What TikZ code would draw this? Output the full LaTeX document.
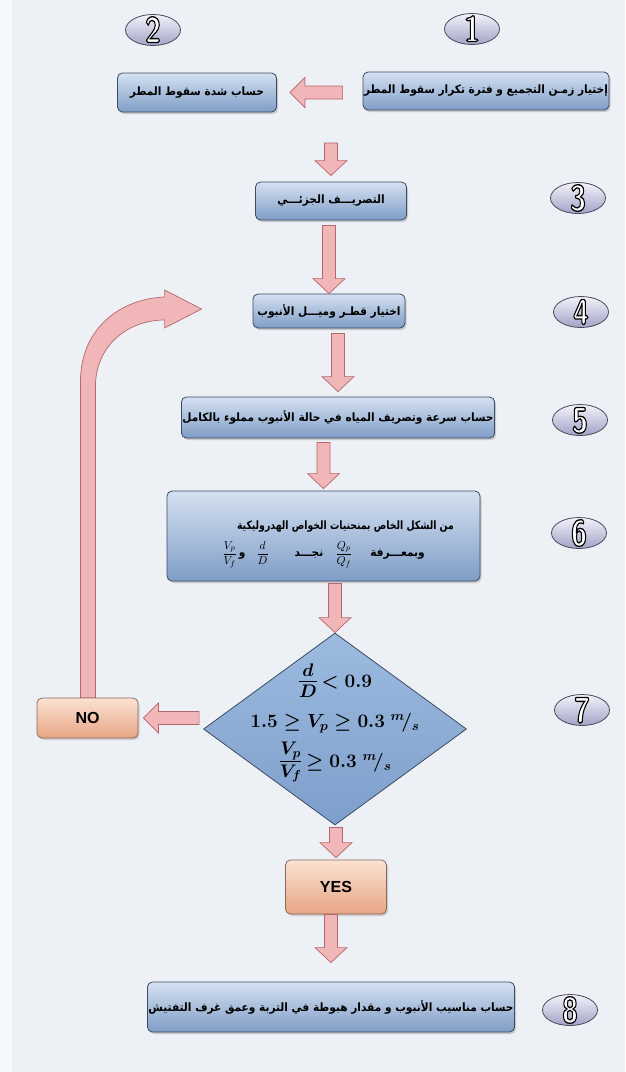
\RequirePackage{fix-cm}
\documentclass[tikz,border=0pt]{standalone}
\usepackage{fontspec}
\usetikzlibrary{shapes.geometric,shadows,calc,positioning}
\TeXXeTstate=1
\newfontfamily\arabicfont[Script=Arabic]{DejaVu Sans}
\newfontfamily\latinsans{Liberation Sans}
\newcommand{\artxt}[1]{{\arabicfont\bfseries\scalebox{0.92}[1]{\beginR #1\endR}}}
% white digit with a black outline (stroked glyphs)
\newcommand{\tagnum}[1]{\smash{\raisebox{-12.5pt}{\scalebox{0.8}[1]{\color{white}%
  \special{pdf:literal direct 0 0 0 RG 1.3 w 2 Tr}#1\special{pdf:literal direct 0 Tr}}}}}
\definecolor{pagebg}{HTML}{EDF0F4}
\definecolor{boxtop}{HTML}{D5E1F1}
\definecolor{boxbot}{HTML}{7F9DC7}
\definecolor{boxline}{HTML}{3C4B63}
\definecolor{diatop}{HTML}{9DBBE0}
\definecolor{diabot}{HTML}{7E9FCB}
\definecolor{peachtop}{HTML}{FBE2D3}
\definecolor{peachbot}{HTML}{E7A584}
\definecolor{peachline}{HTML}{8A6A5A}
\definecolor{arrfill}{HTML}{F0B6B8}
\definecolor{arrline}{HTML}{B5676D}
\definecolor{tagtop}{HTML}{F3F3FB}
\definecolor{tagbot}{HTML}{A2A2C6}
\definecolor{tagline}{HTML}{4A4A5C}
\tikzset{
  bluebox/.style={draw=boxline, line width=0.8pt, rounded corners=5pt,
    top color=boxtop, bottom color=boxbot, inner sep=1pt,
    drop shadow={shadow xshift=1.5pt, shadow yshift=-2pt, opacity=0.35},
    font=\fontsize{11.5}{20}\selectfont, align=center},
  peachbox/.style={draw=peachline, line width=0.8pt, rounded corners=5pt,
    top color=peachtop, bottom color=peachbot, minimum width=101pt,
    drop shadow={shadow xshift=1.5pt, shadow yshift=-2pt, opacity=0.3},
    font=\latinsans\bfseries\fontsize{16}{16}\selectfont},
  decision/.style={diamond, draw=boxline, line width=0.8pt, top color=diatop,
    bottom color=diabot, inner sep=0pt, minimum width=263pt, minimum height=192pt},
  condtext/.style={align=center, font=\fontsize{19}{40}\selectfont\boldmath},
  numtag/.style={ellipse, draw=tagline, line width=0.8pt, top color=tagtop,
    bottom color=tagbot, minimum width=55pt, minimum height=31pt, inner sep=0pt,
    font=\sffamily\bfseries\fontsize{36}{36}\selectfont},
  blk/.style={draw=arrline, line width=0.7pt, fill=arrfill},
}
% block arrow pointing down, x taken from the end point
\newcommand{\downblk}[2]{%
  \path[blk] let \p1=(#1), \p2=(#2) in
    (\x2-6.5pt,\y1) -- (\x2+6.5pt,\y1) -- (\x2+6.5pt,\y2+15pt) -- (\x2+16pt,\y2+15pt)
    -- (\x2,\y2) -- (\x2-16pt,\y2+15pt) -- (\x2-6.5pt,\y2+15pt) -- cycle;}
% block arrow pointing left, y taken from the end point
\newcommand{\leftblk}[2]{%
  \path[blk] let \p1=(#1), \p2=(#2) in
    (\x1,\y2+6.5pt) -- (\x2+15pt,\y2+6.5pt) -- (\x2+15pt,\y2+15pt) -- (\x2,\y2)
    -- (\x2+15pt,\y2-15pt) -- (\x2+15pt,\y2-6.5pt) -- (\x1,\y2-6.5pt) -- cycle;}
\begin{document}
\begin{tikzpicture}[x=1pt, y=1pt, node distance=100pt]
  \useasboundingbox (0,0) rectangle (625,-1072);
  \fill[pagebg] (0,0) rectangle (625,-1072);
  \fill[white!55!pagebg] (0,0) rectangle (12,-1072);
  % top row
  \node[bluebox, minimum width=243pt, minimum height=38pt] (b1) at (486,-91) {\artxt{إختيار زمـن التجميع و فترة تكرار سقوط المطر}};
  \node[bluebox, left of=b1, node distance=289pt, yshift=-1.5pt, minimum width=159pt, minimum height=39pt] (b2) {\artxt{حساب شدة سقوط المطر}};
  \node[numtag] (t1) at (472,-29) {\tagnum{1}};
  \node[numtag] (t2) at (153,-30) {\tagnum{2}};
  \coordinate (c3) at (335,-143);
  % main column
  \node[bluebox, minimum width=151pt, minimum height=38pt] (b3) at (331,-201) {\artxt{التصريـــف الجزئـــي}};
  \node[bluebox, below of=b3, node distance=110pt, xshift=-2pt, minimum width=152pt, minimum height=34pt] (b4) {\artxt{اختيار قطـر وميـــل الأنبوب}};
  \node[bluebox, below of=b4, node distance=106.5pt, xshift=9pt, minimum width=312pt, minimum height=41pt] (b5) {\artxt{حساب سرعة وتصريف المياه في حالة الأنبوب مملوء بالكامل}};
  \node[bluebox, below of=b5, node distance=118.5pt, xshift=-14.5pt, minimum width=313pt, minimum height=90pt] (b6) {\rule{0pt}{26pt}\rule{44pt}{0pt}\scalebox{0.88}[1]{\artxt{من الشكل الخاص بمنحنيات الخواص الهدروليكية}}\\[7pt]
    $\boldmath\displaystyle\frac{V_p}{V_f}$\hspace{2pt}\artxt{و}\hspace{11pt}$\boldmath\displaystyle\frac{d}{D}$\hspace{26pt}\artxt{نجـــد}\hspace{12pt}$\boldmath\displaystyle\frac{Q_p}{Q_f}$\hspace{18pt}\artxt{وبمعـــرفة}};
  \node[decision, below of=b6, node distance=193pt, xshift=11.5pt,
    label={[condtext, yshift=6pt]center:{{\fontsize{26}{26}\selectfont$\frac{d}{D}$}$\,< 0.9$\\ $1.5 \ge V_p \ge 0.3\ {}^{m}\!/_{s}$\\ {\fontsize{26}{26}\selectfont$\frac{V_p}{V_f}$}$\,\ge 0.3\ {}^{m}\!/_{s}$}}] (dia) {};
  \node[peachbox, left of=dia, node distance=247.5pt, yshift=11pt, minimum height=40pt] (no) {NO};
  \node[peachbox, below of=dia, node distance=158pt, xshift=1pt, minimum height=54pt] (yes) {YES};
  \node[bluebox, below of=yes, node distance=120pt, xshift=-5pt, minimum width=364pt, minimum height=50pt] (b8) {\artxt{حساب مناسيب الأنبوب و مقدار هبوطة في التربة وعمق غرف التفتيش}};
  % step numbers
  \node[numtag, right of=b3, node distance=247pt, yshift=3pt] (t3) {\tagnum{3}};
  \node[numtag, right of=b4, node distance=252pt, yshift=-1pt] (t4) {\tagnum{4}};
  \node[numtag, right of=b5, node distance=242pt, yshift=-2.5pt] (t5) {\tagnum{5}};
  \node[numtag, right of=b6, node distance=255.5pt, yshift=3pt] (t6) {\tagnum{6}};
  \node[numtag, right of=dia, node distance=247pt, yshift=19pt] (t7) {\tagnum{7}};
  \node[numtag, right of=b8, node distance=239pt, yshift=-3pt] (t8) {\tagnum{8}};
  % arrows
  \leftblk{[xshift=-20pt]b1.west}{[xshift=13pt]b2.east}
  \downblk{c3}{[yshift=6pt]b3.north}
  \downblk{[yshift=-5pt]b3.south}{b4.north}
  \downblk{[yshift=-5pt]b4.south}{[yshift=5pt]b5.north}
  \downblk{[yshift=-4pt]b5.south}{[yshift=2pt]b6.north}
  \downblk{[yshift=-2pt]b6.south}{dia.north}
  \leftblk{[xshift=-4pt]dia.west}{[xshift=5pt]no.east}
  \downblk{[yshift=-2pt]dia.south}{[yshift=2pt]yes.north}
  \downblk{yes.south}{[yshift=19pt]b8.north}
  % back to the pipe choice
  \path[blk] let \p1=(no.north), \p2=(b4.west) in
    (\x1-7pt,\y1) -- (\x1-7pt,\y2-70pt)
    .. controls (\x1-7pt,\y2-20pt) and (\x1+30pt,\y2+12pt) .. (\x2-88pt,\y2+14pt)
    -- (\x2-88pt,\y2+21pt) -- (\x2-51pt,\y2+2pt) -- (\x2-88pt,\y2-17pt) -- (\x2-88pt,\y2-9pt)
    .. controls (\x1+40pt,\y2-9pt) and (\x1+8pt,\y2-35pt) .. (\x1+8pt,\y2-75pt)
    -- (\x1+8pt,\y1) -- cycle;
\end{tikzpicture}
\end{document}
